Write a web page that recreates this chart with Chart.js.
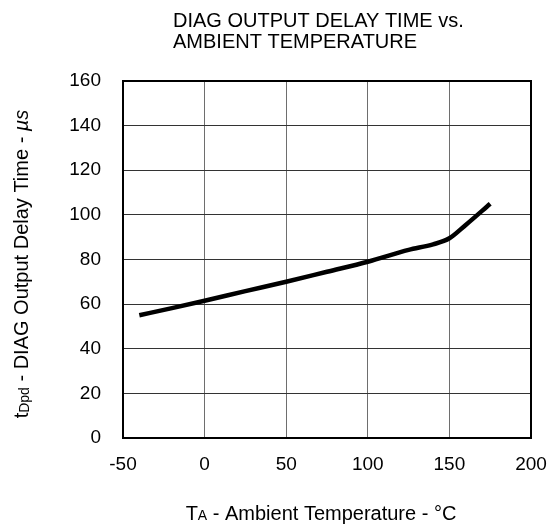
<!DOCTYPE html>
<html>
<head>
<meta charset="utf-8">
<script src="https://cdn.jsdelivr.net/npm/chart.js@4"></script>
<style>
  html, body { margin: 0; padding: 0; background: #fff; }
  #wrap { width: 549px; height: 527px; }
</style>
</head>
<body>
<div id="wrap"><canvas id="can" width="549" height="527"></canvas></div>
<script>
// temperature (°C) and delay time (µs)
const temperatura = [-40, -20, 0, 25, 50, 75, 100, 125, 140, 150, 160, 175]
const kasnjenje = [55, 58.2, 61.5, 65.8, 70, 74.5, 79, 84.3, 86.8, 89.5, 95.5, 105]

const xTicks = [-50, 0, 50, 100, 150, 200]
const yTicks = [0, 20, 40, 60, 80, 100, 120, 140, 160]

const naslov = ['DIAG OUTPUT DELAY TIME vs.', 'AMBIENT TEMPERATURE']

const font = '"Liberation Sans", Arial, sans-serif'

// titles with subscripts and the frame are drawn by hand
const natpisi = {
    id: 'natpisi',
    afterDraw(chart) {
        const ctx = chart.ctx
        const a = chart.chartArea
        ctx.save()

        // frame round the plot
        ctx.strokeStyle = '#000'
        ctx.lineWidth = 2
        ctx.strokeRect(a.left, a.top, a.right - a.left, a.bottom - a.top)

        ctx.fillStyle = '#000'
        ctx.textBaseline = 'alphabetic'

        // main title, two lines, left aligned
        ctx.font = '20px ' + font
        ctx.textAlign = 'left'
        ctx.fillText(naslov[0], 173, 27)
        ctx.fillText(naslov[1], 173, 48)

        // x title:  T_A - Ambient Temperature - °C
        const dijeloviX = [
            { t: 'T', f: '20px ' + font, dy: 0 },
            { t: 'A', f: '14px ' + font, dy: 0 },
            { t: ' - Ambient Temperature - °C', f: '20px ' + font, dy: 0 }
        ]
        let sirina = 0
        dijeloviX.forEach(d => { ctx.font = d.f; sirina += ctx.measureText(d.t).width })
        let x = 321 - sirina / 2
        dijeloviX.forEach(d => {
            ctx.font = d.f
            ctx.fillText(d.t, x, 520 + d.dy)
            x += ctx.measureText(d.t).width
        })

        // y title, rotated:  t_Dpd - DIAG Output Delay Time - µs
        const dijeloviY = [
            { t: 't', f: '20px ' + font, dy: 0 },
            { t: 'Dpd', f: '14px ' + font, dy: 1 },
            { t: ' - DIAG Output Delay Time - ', f: '20px ' + font, dy: 0 },
            { t: 'µs', f: 'italic 20px ' + font, dy: 0 }
        ]
        sirina = 0
        dijeloviY.forEach(d => { ctx.font = d.f; sirina += ctx.measureText(d.t).width })
        ctx.translate(28, 264)
        ctx.rotate(-Math.PI / 2)
        x = -sirina / 2
        dijeloviY.forEach(d => {
            ctx.font = d.f
            ctx.fillText(d.t, x, d.dy)
            x += ctx.measureText(d.t).width
        })
        ctx.restore()
    }
}

const data = {
    datasets: [{
        data: temperatura.map((t, i) => ({ x: t, y: kasnjenje[i] })),
        borderColor: '#000',
        borderWidth: 4.5,
        pointRadius: 0,
        cubicInterpolationMode: 'monotone',
        fill: false
    }]
}

const config = {
    type: 'line',
    data,
    options: {
        responsive: false,
        animation: false,
        layout: { padding: { top: 81, right: 18, left: 0, bottom: 0 } },
        plugins: {
            legend: { display: false },
            tooltip: { enabled: false }
        },
        scales: {
            x: {
                type: 'linear',
                min: -50,
                max: 200,
                afterBuildTicks: s => { s.ticks = xTicks.map(v => ({ value: v })) },
                afterFit: s => { s.height = 89; s.paddingLeft = 0; s.paddingRight = 0 },
                ticks: {
                    color: '#000',
                    font: { family: font, size: 19 },
                    padding: 15,
                    maxRotation: 0
                },
                grid: { color: '#6e6e6e', lineWidth: 1, drawTicks: false },
                border: { color: '#000', width: 2 }
            },
            y: {
                min: 0,
                max: 160,
                afterBuildTicks: s => { s.ticks = yTicks.map(v => ({ value: v })) },
                afterFit: s => { s.width = 123; s.paddingTop = 0; s.paddingBottom = 0 },
                ticks: {
                    color: '#000',
                    font: { family: font, size: 19 },
                    padding: 22
                },
                grid: { color: '#333', lineWidth: 1, drawTicks: false },
                border: { color: '#000', width: 2 }
            }
        }
    },
    plugins: [natpisi]
}

let chart = new Chart(document.getElementById('can'), config)
</script>
</body>
</html>
